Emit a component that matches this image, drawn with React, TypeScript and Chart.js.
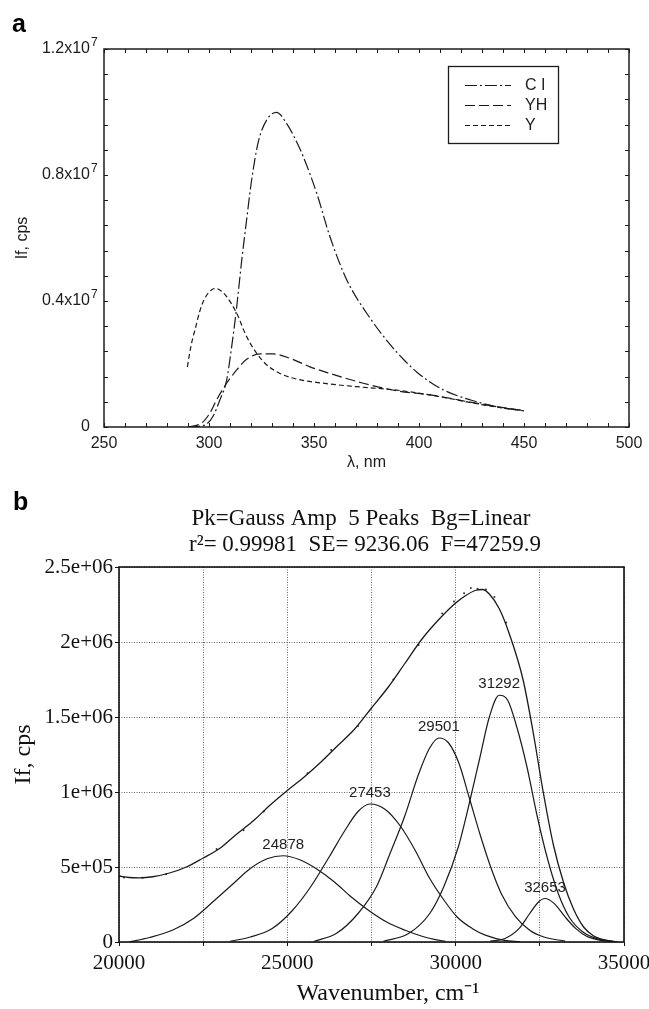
import React, { useEffect, useRef } from 'react';
import { Chart, registerables } from 'chart.js';

Chart.register(...registerables);

const SANS = "'Liberation Sans', Arial, Helvetica, sans-serif";
const SERIF = "'Liberation Serif', 'Times New Roman', serif";
const INK = '#1c1c1c';

// ---------------- Panel a : emission spectra ----------------
const A_SERIES = ['C I', 'YH', 'Y'];
const A_DASHES = [[12, 3, 2, 3], [10, 4], [5, 3]];

const A_CI_X = [290, 295, 299, 302, 305.2, 308.4, 310.8, 313.2, 315.6, 317.9, 320.3, 323.5, 327.5, 332.2, 337, 341, 344.9, 351.3, 357.6, 365.6, 375.1, 386.2, 393, 399, 405, 411, 418, 425, 437, 450];
const A_CI_Y = [0, 0.02e6, 0.1e6, 0.35e6, 0.86e6, 1.49e6, 2.55e6, 3.82e6, 5.3e6, 6.57e6, 7.84e6, 9.06e6, 9.75e6, 9.99e6, 9.63e6, 9.15e6, 8.58e6, 7.42e6, 6.04e6, 4.67e6, 3.61e6, 2.62e6, 2.12e6, 1.74e6, 1.44e6, 1.2e6, 1.0e6, 0.85e6, 0.64e6, 0.52e6];

const A_YH_X = [290.5, 294, 297.3, 300.5, 303.6, 308.4, 313.2, 317.9, 324.3, 330.6, 338.6, 348.1, 357.6, 373.5, 389.4, 405.2, 415, 425, 437, 450];
const A_YH_Y = [0.01e6, 0.05e6, 0.17e6, 0.45e6, 0.86e6, 1.39e6, 1.81e6, 2.15e6, 2.32e6, 2.32e6, 2.18e6, 1.91e6, 1.7e6, 1.39e6, 1.15e6, 1.02e6, 0.91e6, 0.78e6, 0.65e6, 0.52e6];

const A_Y_X = [289.7, 291.5, 293.7, 295.5, 297.6, 300, 303.2, 305.8, 308.4, 313.2, 317.9, 322.7, 327.5, 333.8, 341.8, 354.4, 370.3, 389.4, 405.2, 415, 425, 437, 450];
const A_Y_Y = [1.91e6, 2.6e6, 3.18e6, 3.65e6, 4.03e6, 4.28e6, 4.4e6, 4.32e6, 4.14e6, 3.61e6, 2.87e6, 2.34e6, 1.97e6, 1.7e6, 1.52e6, 1.39e6, 1.28e6, 1.17e6, 1.02e6, 0.9e6, 0.77e6, 0.63e6, 0.51e6];

const A_X_TICK_LABELS = ['250', '300', '350', '400', '450', '500'];
const A_Y_TICK_BASE = ['0', '0.4x10', '0.8x10', '1.2x10'];
const A_Y_TICK_EXP = ['', '7', '7', '7'];

// ---------------- Panel b : Gaussian deconvolution ----------------
const B_TITLE = ['Pk=Gauss Amp  5 Peaks  Bg=Linear', 'r²= 0.99981  SE= 9236.06  F=47259.9'];
const B_X_TITLE = 'Wavenumber, cm⁻¹';
const B_Y_TITLE = 'If, cps';
const B_X_TICK_LABELS = ['20000', '25000', '30000', '35000'];
const B_Y_TICK_LABELS = ['0', '5e+05', '1e+06', '1.5e+06', '2e+06', '2.5e+06'];

const B_ENV_X = [20000, 20300, 20600, 21000, 21500, 22000, 22500, 23000, 23500, 24000, 24500, 25000, 25500, 26000, 26500, 27000, 27500, 28000, 28500, 29000, 29500, 30000, 30300, 30600, 30800, 31000, 31300, 31600, 32000, 32300, 32600, 32900, 33200, 33500, 33800, 34100, 34500, 34800];
const B_ENV_Y = [0.44e6, 0.43e6, 0.428e6, 0.435e6, 0.46e6, 0.5e6, 0.56e6, 0.625e6, 0.72e6, 0.81e6, 0.915e6, 1.01e6, 1.1e6, 1.2e6, 1.31e6, 1.42e6, 1.56e6, 1.7e6, 1.86e6, 2.02e6, 2.15e6, 2.26e6, 2.31e6, 2.345e6, 2.35e6, 2.32e6, 2.22e6, 2.05e6, 1.75e6, 1.4e6, 1.0e6, 0.65e6, 0.4e6, 0.22e6, 0.1e6, 0.04e6, 0.01e6, 0];

const B_DOT_X = [20150, 20700, 21400, 22900, 23700, 24300, 25600, 26300, 27100, 28150, 28900, 29600, 29950, 30250, 30450, 30650, 30900, 31150, 31500];
const B_DOT_Y = [0.43e6, 0.428e6, 0.452e6, 0.62e6, 0.745e6, 0.87e6, 1.125e6, 1.28e6, 1.44e6, 1.75e6, 1.98e6, 2.19e6, 2.27e6, 2.325e6, 2.36e6, 2.355e6, 2.35e6, 2.3e6, 2.13e6];

const B_G1_X = [20300, 20900, 21600, 22200, 22850, 23400, 23900, 24400, 24878, 25350, 25850, 26400, 26900, 27450, 27950, 28500, 29000, 29400, 29700];
const B_G1_Y = [0, 0.03e6, 0.08e6, 0.155e6, 0.28e6, 0.39e6, 0.49e6, 0.555e6, 0.575e6, 0.55e6, 0.49e6, 0.4e6, 0.3e6, 0.205e6, 0.133e6, 0.078e6, 0.038e6, 0.016e6, 0.005e6];

const B_G2_X = [23300, 23900, 24550, 25150, 25700, 26250, 26700, 27100, 27453, 27900, 28350, 28800, 29200, 29650, 30050, 30500, 30900, 31450, 31900];
const B_G2_Y = [0.005e6, 0.033e6, 0.09e6, 0.21e6, 0.37e6, 0.57e6, 0.74e6, 0.87e6, 0.92e6, 0.885e6, 0.775e6, 0.61e6, 0.435e6, 0.28e6, 0.165e6, 0.089e6, 0.044e6, 0.011e6, 0.003e6];

const B_G3_X = [25800, 26450, 27100, 27650, 28050, 28480, 28900, 29220, 29501, 29780, 30100, 30400, 30720, 31040, 31360, 31780, 32200, 32620, 33250];
const B_G3_Y = [0.005e6, 0.056e6, 0.19e6, 0.37e6, 0.59e6, 0.835e6, 1.12e6, 1.29e6, 1.36e6, 1.33e6, 1.19e6, 0.965e6, 0.72e6, 0.5e6, 0.32e6, 0.167e6, 0.078e6, 0.033e6, 0.006e6];

const B_G4_X = [27850, 28600, 29230, 29650, 30080, 30400, 30720, 31000, 31292, 31550, 31820, 32120, 32430, 32740, 33050, 33370, 33780, 34300, 34750];
const B_G4_Y = [0.005e6, 0.056e6, 0.19e6, 0.37e6, 0.635e6, 0.92e6, 1.23e6, 1.5e6, 1.645e6, 1.61e6, 1.43e6, 1.165e6, 0.83e6, 0.545e6, 0.322e6, 0.167e6, 0.067e6, 0.016e6, 0.003e6];

const B_G5_X = [31030, 31450, 31880, 32200, 32460, 32653, 32930, 33250, 33570, 33890, 34310, 34750];
const B_G5_Y = [0.006e6, 0.022e6, 0.089e6, 0.19e6, 0.267e6, 0.29e6, 0.256e6, 0.167e6, 0.089e6, 0.038e6, 0.011e6, 0.003e6];

const B_PEAK_LABELS = ['24878', '27453', '29501', '31292', '32653'];
const B_PEAK_X = [24878, 27453, 29501, 31292, 32653];
const B_PEAK_Y = [0.575e6, 0.92e6, 1.36e6, 1.645e6, 0.29e6];

function pts(xs: number[], ys: number[]) {
  return xs.map((x, i) => ({ x, y: ys[i] }));
}

function isMultiple(v: number, step: number) {
  const k = v / step;
  return Math.abs(k - Math.round(k)) < 1e-9;
}

const A_Y_LABEL_PAD = 14;

// ---------- plugins ----------
const panelAExtras = {
  id: 'panelAExtras',
  afterDatasetsDraw(chart: any) {
    const { ctx, chartArea: a, scales } = chart;
    ctx.save();
    ctx.setLineDash([]);
    ctx.strokeStyle = INK;
    ctx.lineWidth = 1.5;
    ctx.strokeRect(a.left, a.top, a.right - a.left, a.bottom - a.top);
    ctx.lineWidth = 1;
    ctx.beginPath();
    for (const t of scales.x.ticks) {
      const px = Math.round(scales.x.getPixelForValue(t.value)) + 0.5;
      ctx.moveTo(px, a.bottom);
      ctx.lineTo(px, a.bottom - 4);
      ctx.moveTo(px, a.top);
      ctx.lineTo(px, a.top + 4);
    }
    for (const t of scales.y.ticks) {
      const py = Math.round(scales.y.getPixelForValue(t.value)) + 0.5;
      ctx.moveTo(a.left, py);
      ctx.lineTo(a.left + 4, py);
      ctx.moveTo(a.right, py);
      ctx.lineTo(a.right - 4, py);
    }
    ctx.stroke();

    // exponents of the y tick labels (superscripts)
    ctx.fillStyle = INK;
    ctx.font = `12px ${SANS}`;
    ctx.textAlign = 'left';
    ctx.textBaseline = 'middle';
    A_Y_TICK_EXP.forEach((e, i) => {
      if (!e) return;
      const py = scales.y.getPixelForValue(i * 4e6);
      ctx.fillText(e, a.left - A_Y_LABEL_PAD + 1, py - 6);
    });

    // legend box
    const lx = 448, ly = 66, lw = 110, lh = 77;
    ctx.fillStyle = '#fff';
    ctx.fillRect(lx, ly, lw, lh);
    ctx.lineWidth = 1.3;
    ctx.strokeStyle = INK;
    ctx.strokeRect(lx + 0.5, ly + 0.5, lw, lh);
    chart.data.datasets.forEach((ds: any, i: number) => {
      const y = 85 + i * 20;
      ctx.setLineDash(ds.borderDash);
      ctx.lineWidth = ds.borderWidth;
      ctx.strokeStyle = ds.borderColor;
      ctx.beginPath();
      ctx.moveTo(465, y + 0.5);
      ctx.lineTo(511, y + 0.5);
      ctx.stroke();
      ctx.setLineDash([]);
      ctx.fillStyle = INK;
      ctx.font = `16px ${SANS}`;
      ctx.textAlign = 'left';
      ctx.textBaseline = 'middle';
      ctx.fillText(ds.label, 525, y + 1);
    });

    // panel letter
    ctx.fillStyle = '#000';
    ctx.font = `bold 25px ${SANS}`;
    ctx.textAlign = 'left';
    ctx.textBaseline = 'alphabetic';
    ctx.fillText('a', 12, 32);
    ctx.restore();
  },
};

const panelBExtras = {
  id: 'panelBExtras',
  afterDatasetsDraw(chart: any) {
    const { ctx, chartArea: a, scales } = chart;
    ctx.save();
    ctx.setLineDash([]);
    ctx.strokeStyle = '#111';
    ctx.lineWidth = 1.6;
    ctx.strokeRect(a.left, a.top, a.right - a.left, a.bottom - a.top);

    // peak labels
    ctx.fillStyle = '#222';
    ctx.font = `15px ${SANS}`;
    ctx.textAlign = 'center';
    ctx.textBaseline = 'middle';
    B_PEAK_LABELS.forEach((lab, i) => {
      const px = scales.x.getPixelForValue(B_PEAK_X[i]);
      const py = scales.y.getPixelForValue(B_PEAK_Y[i]);
      ctx.fillText(lab, px, py - 11);
    });

    // title lines
    ctx.fillStyle = '#111';
    ctx.font = `23px ${SERIF}`;
    ctx.fillText(B_TITLE[0], 361, 44);
    ctx.fillText(B_TITLE[1], 365, 70);

    // x axis title
    ctx.font = `24px ${SERIF}`;
    ctx.fillText(B_X_TITLE, 388, 519);

    // panel letter
    ctx.fillStyle = '#000';
    ctx.font = `bold 25px ${SANS}`;
    ctx.textAlign = 'left';
    ctx.textBaseline = 'alphabetic';
    ctx.fillText('b', 13, 35);
    ctx.restore();
  },
};

function lineDs(label: string, xs: number[], ys: number[], dash: number[] = [], width = 1.2) {
  return {
    label,
    data: pts(xs, ys),
    borderColor: '#1a1a1a',
    borderWidth: width,
    borderDash: dash,
    pointRadius: 0,
    fill: false,
    cubicInterpolationMode: 'monotone' as const,
  };
}

function ChartA() {
  const ref = useRef<HTMLCanvasElement>(null);
  useEffect(() => {
    if (!ref.current) return;
    const chart = new Chart(ref.current, {
      type: 'line',
      data: {
        datasets: [
          lineDs(A_SERIES[0], A_CI_X, A_CI_Y, A_DASHES[0]),
          lineDs(A_SERIES[1], A_YH_X, A_YH_Y, A_DASHES[1]),
          lineDs(A_SERIES[2], A_Y_X, A_Y_Y, A_DASHES[2]),
        ],
      },
      options: {
        responsive: false,
        animation: false,
        devicePixelRatio: 1,
        events: [],
        layout: { padding: { left: 0, right: 20, top: 49, bottom: 0 } },
        plugins: { legend: { display: false }, tooltip: { enabled: false }, title: { display: false } },
        scales: {
          x: {
            type: 'linear',
            min: 250,
            max: 500,
            afterFit: (s: any) => { s.height = 48; s.paddingLeft = 0; s.paddingRight = 0; },
            grid: { display: false, drawTicks: false, tickLength: 0 },
            border: { display: false },
            ticks: {
              stepSize: 10,
              autoSkip: false,
              maxRotation: 0,
              padding: 7,
              color: INK,
              font: { family: SANS, size: 16 },
              callback: (v: any) => (isMultiple(Number(v) - 250, 50) ? A_X_TICK_LABELS[Math.round((Number(v) - 250) / 50)] : ''),
            },
            title: { display: true, text: 'λ, nm', color: INK, font: { family: SANS, size: 16 }, padding: { top: 0, bottom: 3 } },
          },
          y: {
            type: 'linear',
            min: 0,
            max: 12e6,
            afterFit: (s: any) => { s.width = 104; },
            grid: { display: false, drawTicks: false, tickLength: 0 },
            border: { display: false },
            ticks: {
              stepSize: 8e5,
              autoSkip: false,
              padding: A_Y_LABEL_PAD,
              color: INK,
              font: { family: SANS, size: 16 },
              callback: (v: any) => (isMultiple(Number(v), 4e6) ? A_Y_TICK_BASE[Math.round(Number(v) / 4e6)] : ''),
            },
            title: { display: true, text: 'If, cps', color: INK, font: { family: SANS, size: 16 }, padding: { top: 13, bottom: 0 } },
          },
        },
      },
      plugins: [panelAExtras],
    } as any);
    return () => chart.destroy();
  }, []);
  return <canvas ref={ref} width={649} height={475} style={{ position: 'absolute', left: 0, top: 0 }} />;
}

function ChartB() {
  const ref = useRef<HTMLCanvasElement>(null);
  useEffect(() => {
    if (!ref.current) return;
    const chart = new Chart(ref.current, {
      type: 'line',
      data: {
        datasets: [
          lineDs('Fit', B_ENV_X, B_ENV_Y, [], 1.3),
          {
            label: 'Data',
            type: 'scatter',
            data: pts(B_DOT_X, B_DOT_Y),
            pointRadius: 1,
            pointBackgroundColor: '#333',
            pointBorderWidth: 0,
            showLine: false,
          },
          lineDs('24878', B_G1_X, B_G1_Y),
          lineDs('27453', B_G2_X, B_G2_Y),
          lineDs('29501', B_G3_X, B_G3_Y),
          lineDs('31292', B_G4_X, B_G4_Y),
          lineDs('32653', B_G5_X, B_G5_Y),
        ],
      },
      options: {
        responsive: false,
        animation: false,
        devicePixelRatio: 1,
        events: [],
        layout: { padding: { left: 0, right: 25, top: 92, bottom: 0 } },
        plugins: { legend: { display: false }, tooltip: { enabled: false }, title: { display: false } },
        scales: {
          x: {
            type: 'linear',
            min: 20000,
            max: 35000,
            afterFit: (s: any) => { s.height = 67; s.paddingLeft = 0; s.paddingRight = 0; },
            grid: { color: '#666', lineWidth: 1, drawTicks: true, tickLength: 4, tickColor: '#111', tickWidth: 1, tickBorderDash: [] },
            border: { display: false, dash: [1, 1.5] },
            ticks: {
              stepSize: 2500,
              autoSkip: false,
              maxRotation: 0,
              padding: 5,
              color: '#111',
              font: { family: SERIF, size: 21 },
              callback: (v: any) => (isMultiple(Number(v) - 20000, 5000) ? B_X_TICK_LABELS[Math.round((Number(v) - 20000) / 5000)] : ''),
            },
            title: { display: false },
          },
          y: {
            type: 'linear',
            min: 0,
            max: 2.5e6,
            afterFit: (s: any) => { s.width = 119; },
            grid: { color: '#666', lineWidth: 1, drawTicks: true, tickLength: 4, tickColor: '#111', tickWidth: 1, tickBorderDash: [] },
            border: { display: false, dash: [1, 1.5] },
            ticks: {
              stepSize: 5e5,
              autoSkip: false,
              padding: 2,
              color: '#111',
              font: { family: SERIF, size: 21 },
              callback: (v: any) => (isMultiple(Number(v), 5e5) ? B_Y_TICK_LABELS[Math.round(Number(v) / 5e5)] : ''),
            },
            title: { display: true, text: B_Y_TITLE, color: '#111', font: { family: SERIF, size: 24 }, padding: { top: 9, bottom: 0 } },
          },
        },
      },
      plugins: [panelBExtras],
    } as any);
    return () => chart.destroy();
  }, []);
  return <canvas ref={ref} width={649} height={534} style={{ position: 'absolute', left: 0, top: 475 }} />;
}

export default function App() {
  return (
    <div style={{ position: 'absolute', left: 0, top: 0, width: 649, height: 1009, background: '#fff', overflow: 'hidden' }}>
      <ChartA />
      <ChartB />
    </div>
  );
}
